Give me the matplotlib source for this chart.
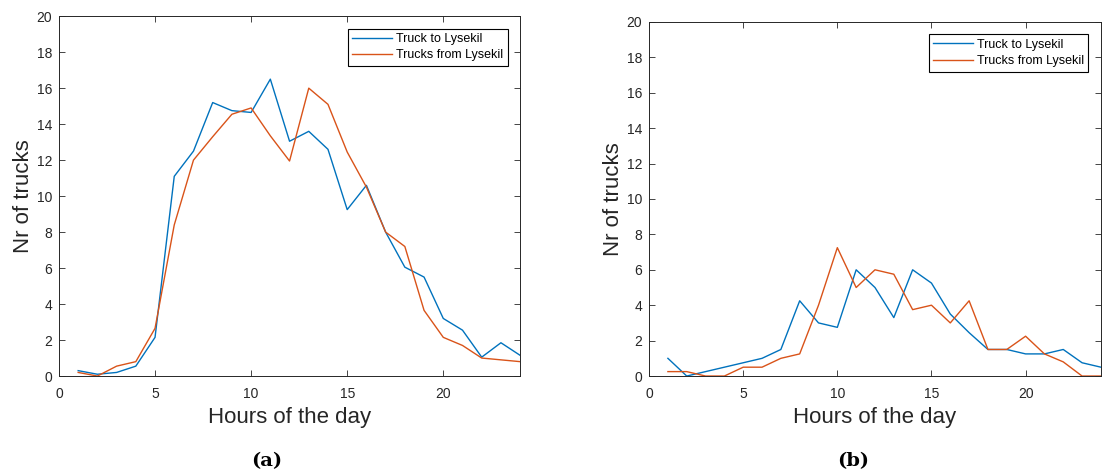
import numpy as np
import matplotlib.pyplot as plt

# hourly truck counts, hours 1..24
hours = np.arange(1, 25)

# (a)
to_lysekil_a = [0.3, 0.1, 0.2, 0.55, 2.15, 11.1, 12.5, 15.2, 14.75, 14.65, 16.5, 13.05,
                13.6, 12.6, 9.25, 10.6, 8.0, 6.05, 5.5, 3.2, 2.55, 1.05, 1.85, 1.15]
from_lysekil_a = [0.2, 0.0, 0.55, 0.8, 2.65, 8.4, 12.0, 13.3, 14.55, 14.9, 13.35, 11.95,
                  16.0, 15.1, 12.45, 10.5, 8.0, 7.2, 3.65, 2.15, 1.7, 1.0, 0.9, 0.8]

# (b)
to_lysekil_b = [1.0, 0.0, 0.25, 0.5, 0.75, 1.0, 1.5, 4.25, 3.0, 2.75, 6.0, 5.0,
                3.3, 6.0, 5.25, 3.5, 2.45, 1.5, 1.5, 1.25, 1.25, 1.5, 0.75, 0.5]
from_lysekil_b = [0.25, 0.25, 0.0, 0.0, 0.5, 0.5, 1.0, 1.25, 4.0, 7.25, 5.0, 6.0,
                  5.75, 3.75, 4.0, 3.0, 4.25, 1.5, 1.5, 2.25, 1.25, 0.8, 0.0, 0.0]

labels = ["Truck to Lysekil", "Trucks from Lysekil"]
blue = "#0072BD"
orange = "#D95319"
grey = "#262626"

plt.rcParams["font.family"] = ["Liberation Sans", "DejaVu Sans"]

fig = plt.figure(figsize=(11.02, 4.76), dpi=100)
ax_a = fig.add_axes([0.0535, 0.210, 0.4185, 0.756])
ax_b = fig.add_axes([0.589, 0.210, 0.410, 0.744])


def style(ax, y1, y2):
    ax.plot(hours, y1, color=blue, lw=1.0, label=labels[0])
    ax.plot(hours, y2, color=orange, lw=1.0, label=labels[1])
    ax.set_xlim(0, 24)
    ax.set_ylim(0, 20)
    ax.set_xticks([0, 5, 10, 15, 20])
    ax.set_yticks(range(0, 21, 2))
    ax.tick_params(direction="in", top=True, right=True, length=4, width=0.6,
                   colors=grey, labelsize=10, labelcolor=grey)
    ax.tick_params(axis="x", pad=8)
    ax.tick_params(axis="y", pad=5)
    for s in ax.spines.values():
        s.set_color(grey)
        s.set_linewidth(0.7)
    ax.set_xlabel("Hours of the day", fontsize=16, color=grey, labelpad=4)
    ax.set_ylabel("Nr of trucks", fontsize=16, color=grey, labelpad=2)
    leg = ax.legend(loc="upper right", fontsize=9, fancybox=False, framealpha=1,
                    borderpad=0.35, labelspacing=0.35, handlelength=3.2,
                    handletextpad=0.3, borderaxespad=1.0)
    leg.get_frame().set_edgecolor("black")
    leg.get_frame().set_linewidth(0.8)


style(ax_a, to_lysekil_a, from_lysekil_a)
style(ax_b, to_lysekil_b, from_lysekil_b)

fig.text(0.242, 0.032, "(a)", fontsize=14, fontweight="bold",
         family="DejaVu Serif", ha="center", va="center")
fig.text(0.774, 0.032, "(b)", fontsize=14, fontweight="bold",
         family="DejaVu Serif", ha="center", va="center")

fig.savefig("out.png", dpi=100)
